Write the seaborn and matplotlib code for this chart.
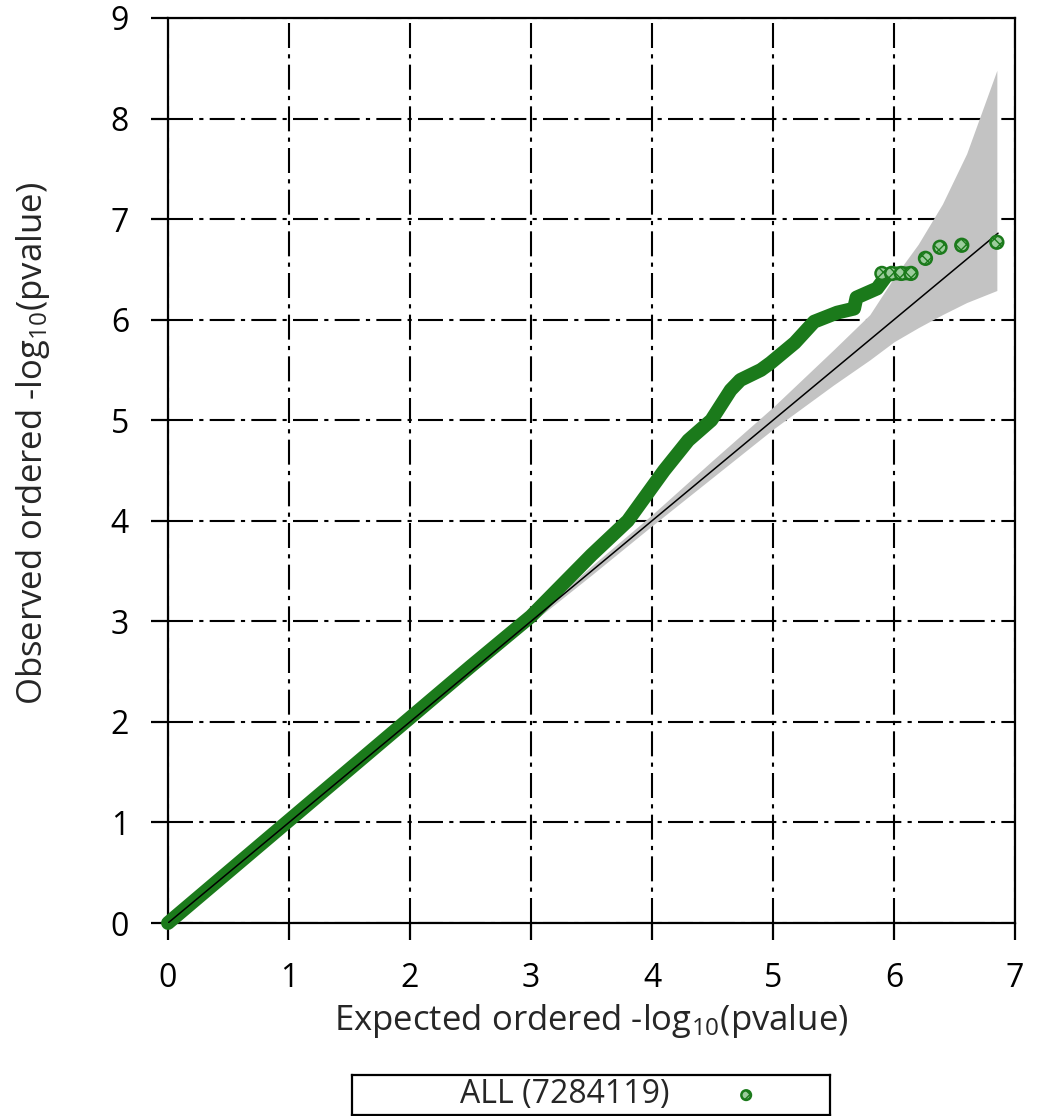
import numpy as np
import pandas as pd
import matplotlib
matplotlib.use("Agg")
import matplotlib.pyplot as plt
import seaborn as sns

# ---- data ----
obs_expected = [0.0, 0.5, 1.0, 1.5, 2.0, 2.5, 3.0, 3.5, 3.8, 4.1, 4.3, 4.49,
                4.65, 4.73, 4.9, 4.98, 5.18, 5.34, 5.53, 5.67, 5.69, 5.86, 5.94,
                6.0, 6.07, 6.14]
obs_observed = [0.0, 0.51, 1.02, 1.53, 2.04, 2.55, 3.05, 3.66, 4.0, 4.5, 4.8, 5.0,
                5.3, 5.4, 5.5, 5.57, 5.77, 5.98, 6.07, 6.11, 6.22, 6.31, 6.44,
                6.46, 6.46, 6.46]
tail_expected = [5.9, 5.98, 6.06, 6.14, 6.26, 6.38, 6.56, 6.85]
tail_observed = [6.46, 6.46, 6.46, 6.46, 6.61, 6.72, 6.74, 6.77]

ci_expected = [0.0, 3.0, 3.5, 4.0, 4.5, 5.0, 5.5, 5.8, 6.0, 6.2, 6.4, 6.6, 6.85]
ci_upper = [0.0, 3.02, 3.55, 4.06, 4.6, 5.13, 5.7, 6.05, 6.42, 6.75, 7.15, 7.65, 8.48]
ci_lower = [0.0, 2.98, 3.46, 3.95, 4.43, 4.91, 5.35, 5.6, 5.78, 5.92, 6.05, 6.17, 6.29]

ref_line = [0.0, 6.86]
x_ticks = [0, 1, 2, 3, 4, 5, 6, 7]
y_ticks = [0, 1, 2, 3, 4, 5, 6, 7, 8, 9]
legend_label = "ALL (7284119)"
x_label = r"Expected ordered -log$_{10}$(pvalue)"
y_label = r"Observed ordered -log$_{10}$(pvalue)"

GREEN = "#1b7a1b"
FS = 23
LFS = 25

sns.set_theme(style="ticks")
plt.rcParams["font.family"] = ["Open Sans", "DejaVu Sans"]
plt.rcParams["mathtext.default"] = "regular"

W, H = 1037, 1116
fig, ax = plt.subplots(figsize=(W / 100, H / 100), dpi=100)
fig.subplots_adjust(left=168 / W, right=1015 / W, top=1 - 18 / H, bottom=1 - 923 / H)

# confidence band
ax.fill_between(ci_expected, ci_lower, ci_upper, color="#c3c3c3", lw=0, zorder=2)

# observed path
obs_df = pd.DataFrame({"expected": obs_expected, "observed": obs_observed})
sns.lineplot(data=obs_df, x="expected", y="observed", sort=False, estimator=None,
             color=GREEN, lw=10, solid_capstyle="round", solid_joinstyle="round",
             ax=ax, zorder=3, clip_on=False)

# reference diagonal
sns.lineplot(x=ref_line, y=ref_line, color="black", lw=1.1, ax=ax, zorder=4)

# tail points
tail_df = pd.DataFrame({"expected": tail_expected, "observed": tail_observed})
sns.scatterplot(data=tail_df, x="expected", y="observed", marker="o", s=85,
                color=GREEN, facecolor="#9ccc9c", edgecolor=GREEN, linewidth=1.8,
                hatch="xxx", ax=ax, zorder=5, label=legend_label)

if ax.get_legend() is not None:
    ax.get_legend().remove()

ax.set_xlim(0, 7)
ax.set_ylim(0, 9)
ax.set_xticks(x_ticks)
ax.set_yticks(y_ticks)
ax.set_axisbelow(True)
ax.grid(True, color="black", linewidth=1.5, linestyle=(0, (12, 3, 2, 3)))
for sp in ax.spines.values():
    sp.set_visible(True)
    sp.set_color("black")
    sp.set_linewidth(1.6)
ax.tick_params(direction="out", length=12, width=1.6, labelsize=FS, pad=16,
               colors="black")

ax.set_xlabel(x_label, fontsize=LFS, labelpad=5)
ax.set_ylabel(y_label, fontsize=LFS)
ax.yaxis.set_label_coords(-0.137, 0.53)

# legend in a framed box below the plot
handles, labels = ax.get_legend_handles_labels()
lax = fig.add_axes([352 / W, 1 / H, 478 / W, 40 / H])
lax.set_xticks([])
lax.set_yticks([])
for sp in lax.spines.values():
    sp.set_visible(True)
    sp.set_color("black")
    sp.set_linewidth(1.6)
lax.set_facecolor("white")
lax.legend(handles, labels, loc="center", bbox_to_anchor=(0.552, 0.5), frameon=False,
           markerfirst=False, handletextpad=1.6, handlelength=1.6, fontsize=FS,
           markerscale=0.75, borderpad=0.1)

fig.savefig("out.png", dpi=100)
